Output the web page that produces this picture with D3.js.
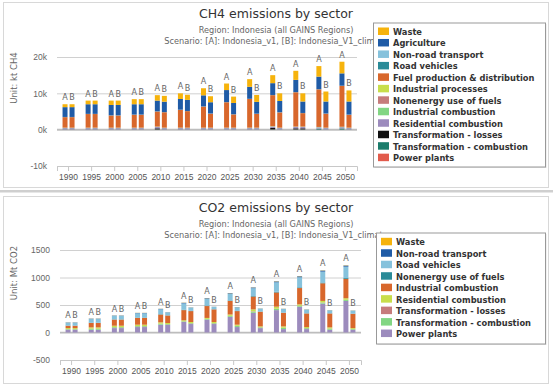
<!DOCTYPE html>
<html>
<head>
<meta charset="utf-8">
<script src="https://cdn.jsdelivr.net/npm/d3@7"></script>
<style>
body { margin: 0; background: #fff; }
svg { display: block; font-family: 'DejaVu Sans', sans-serif; }
</style>
</head>
<body>
<script>
var years = ['1990', '1995', '2000', '2005', '2010', '2015', '2020', '2025', '2030', '2035', '2040', '2045', '2050'];
var scenarios = ['A', 'B'];
var palette = ['#f6b30c', '#1f5ba6', '#86c2dc', '#2a8b98', '#d8672c', '#c8de4b', '#c67c7c', '#82d683', '#9c8bbd', '#111111', '#1b7c6b', '#e25b4c'];

// CH4, kt
var ch4WasteA       = [800, 1000, 1200, 1400, 1500, 1550, 1950, 1800, 2100, 2200, 2500, 2900, 3200];
var ch4WasteB       = [800, 1000, 1200, 1400, 1600, 1400, 1650, 1750, 1900, 2100, 2250, 2750, 3050];
var ch4AgricultureA = [2700, 2650, 2850, 2850, 2950, 2950, 3050, 3300, 3300, 3250, 3350, 3450, 3400];
var ch4AgricultureB = [2700, 2650, 2850, 2850, 2850, 3050, 3100, 3100, 3250, 3100, 3150, 3300, 3600];
var ch4NonRoadA     = [20, 20, 20, 20, 20, 20, 20, 20, 20, 20, 20, 20, 20];
var ch4NonRoadB     = [20, 20, 20, 20, 20, 20, 20, 20, 20, 20, 20, 20, 20];
var ch4RoadA        = [30, 30, 30, 30, 30, 30, 30, 30, 30, 30, 30, 30, 30];
var ch4RoadB        = [30, 30, 30, 30, 30, 30, 30, 30, 30, 30, 30, 30, 30];
var ch4FuelA        = [2900, 3750, 3350, 3550, 4150, 4900, 5800, 7000, 7900, 8550, 9450, 10350, 11250];
var ch4FuelB        = [2900, 3750, 3350, 3550, 4250, 4550, 3850, 3650, 3800, 4200, 3700, 3850, 3550];
var ch4IndProcA     = [30, 30, 30, 30, 30, 30, 30, 30, 30, 30, 30, 30, 30];
var ch4IndProcB     = [30, 30, 30, 30, 30, 30, 30, 30, 30, 30, 30, 30, 30];
var ch4NonenergyA   = [20, 20, 20, 20, 20, 20, 20, 20, 20, 20, 20, 20, 20];
var ch4NonenergyB   = [20, 20, 20, 20, 20, 20, 20, 20, 20, 20, 20, 20, 20];
var ch4IndCombA     = [80, 80, 80, 80, 80, 80, 80, 80, 80, 80, 80, 80, 80];
var ch4IndCombB     = [80, 80, 80, 80, 80, 80, 80, 80, 80, 80, 80, 80, 80];
var ch4ResidA       = [350, 350, 350, 350, 350, 350, 350, 350, 350, 350, 350, 350, 350];
var ch4ResidB       = [350, 350, 350, 350, 350, 350, 350, 350, 350, 350, 350, 350, 350];
var ch4TransLossA   = [0, 0, 0, 0, 300, 0, 0, 0, 0, 400, 300, 0, 0];
var ch4TransLossB   = [0, 0, 0, 0, 0, 0, 0, 0, 0, 0, 300, 0, 0];
var ch4TransCombA   = [50, 50, 50, 50, 50, 50, 50, 50, 50, 50, 50, 250, 300];
var ch4TransCombB   = [50, 50, 50, 50, 50, 50, 50, 50, 50, 50, 50, 50, 50];
var ch4PowerA       = [20, 20, 20, 20, 20, 20, 20, 20, 20, 20, 20, 20, 20];
var ch4PowerB       = [20, 20, 20, 20, 20, 20, 20, 20, 20, 20, 20, 20, 20];

// CO2, Mt
var co2WasteA     = [2, 2, 2, 2, 2, 3, 3, 3, 3, 4, 4, 4, 5];
var co2WasteB     = [2, 2, 2, 2, 1, 2, 1, 2, 2, 2, 2, 2, 2];
var co2NonRoadA   = [5, 6, 6, 7, 8, 11, 11, 11, 13, 16, 17, 19, 20];
var co2NonRoadB   = [5, 6, 6, 7, 3, 4, 3, 4, 3, 4, 4, 3, 3];
var co2RoadA      = [51, 67, 62, 78, 89, 114, 119, 119, 141, 172, 183, 198, 207];
var co2RoadB      = [51, 67, 62, 78, 53, 58, 42, 64, 51, 64, 64, 52, 52];
var co2NonenergyA = [4, 5, 4, 6, 6, 8, 9, 9, 10, 12, 13, 14, 15];
var co2NonenergyB = [4, 5, 4, 6, 4, 4, 3, 4, 4, 4, 4, 4, 4];
var co2IndCombA   = [43, 80, 112, 123, 142, 185, 216, 247, 234, 259, 296, 321, 352];
var co2IndCombB   = [43, 80, 112, 123, 136, 198, 229, 247, 267, 247, 247, 253, 260];
var co2ResidA     = [17, 24, 24, 24, 24, 17, 17, 24, 34, 34, 24, 27, 27];
var co2ResidB     = [17, 24, 24, 24, 20, 20, 20, 21, 15, 24, 18, 21, 15];
var co2TransLossA = [3, 4, 4, 4, 4, 3, 3, 4, 6, 6, 4, 5, 5];
var co2TransLossB = [3, 4, 4, 4, 4, 4, 4, 4, 3, 5, 4, 4, 3];
var co2TransCombA = [10, 15, 15, 15, 15, 11, 10, 15, 22, 22, 15, 17, 17];
var co2TransCombB = [10, 15, 15, 15, 13, 13, 13, 18, 13, 20, 15, 18, 12];
var co2PowerA     = [50, 50, 80, 99, 142, 191, 235, 284, 358, 407, 469, 525, 574];
var co2PowerB     = [50, 50, 80, 99, 136, 154, 154, 99, 80, 62, 62, 50, 50];

// legend order, top of stack first
var ch4Series = [
    {name: 'Waste', A: ch4WasteA, B: ch4WasteB},
    {name: 'Agriculture', A: ch4AgricultureA, B: ch4AgricultureB},
    {name: 'Non-road transport', A: ch4NonRoadA, B: ch4NonRoadB},
    {name: 'Road vehicles', A: ch4RoadA, B: ch4RoadB},
    {name: 'Fuel production & distribution', A: ch4FuelA, B: ch4FuelB},
    {name: 'Industrial processes', A: ch4IndProcA, B: ch4IndProcB},
    {name: 'Nonenergy use of fuels', A: ch4NonenergyA, B: ch4NonenergyB},
    {name: 'Industrial combustion', A: ch4IndCombA, B: ch4IndCombB},
    {name: 'Residential combustion', A: ch4ResidA, B: ch4ResidB},
    {name: 'Transformation - losses', A: ch4TransLossA, B: ch4TransLossB},
    {name: 'Transformation - combustion', A: ch4TransCombA, B: ch4TransCombB},
    {name: 'Power plants', A: ch4PowerA, B: ch4PowerB}
];
var co2Series = [
    {name: 'Waste', A: co2WasteA, B: co2WasteB},
    {name: 'Non-road transport', A: co2NonRoadA, B: co2NonRoadB},
    {name: 'Road vehicles', A: co2RoadA, B: co2RoadB},
    {name: 'Nonenergy use of fuels', A: co2NonenergyA, B: co2NonenergyB},
    {name: 'Industrial combustion', A: co2IndCombA, B: co2IndCombB},
    {name: 'Residential combustion', A: co2ResidA, B: co2ResidB},
    {name: 'Transformation - losses', A: co2TransLossA, B: co2TransLossB},
    {name: 'Transformation - combustion', A: co2TransCombA, B: co2TransCombB},
    {name: 'Power plants', A: co2PowerA, B: co2PowerB}
];

var subtitle = 'Region: Indonesia (all GAINS Regions)',
    scenarioText = 'Scenario: [A]: Indonesia_v1, [B]: Indonesia_V1_climate';

var svg = d3.select('body').append('svg')
    .attr('width', 553)
    .attr('height', 387);

svg.append('rect')
    .attr('x', 0).attr('y', 190)
    .attr('width', 553).attr('height', 2.5)
    .attr('fill', '#cfcfcf');

function drawChart(c) {
    var cx = 276;

    svg.append('rect')
        .attr('x', 3.5).attr('y', c.panelTop + 0.5)
        .attr('width', 545).attr('height', c.panelBottom - c.panelTop)
        .attr('fill', 'none')
        .attr('stroke', '#d8d8d8');

    svg.append('text')
        .attr('x', cx).attr('y', c.panelTop + 16)
        .attr('text-anchor', 'middle')
        .style('font-size', '12.5px')
        .attr('fill', '#333')
        .text(c.title);

    svg.append('text')
        .attr('x', cx).attr('y', c.panelTop + 30.5)
        .attr('text-anchor', 'middle')
        .style('font-size', '8.2px')
        .attr('fill', '#666')
        .text(subtitle);

    svg.append('text')
        .attr('x', cx).attr('y', c.panelTop + 42)
        .attr('text-anchor', 'middle')
        .style('font-size', '8.2px')
        .attr('fill', '#666')
        .text(scenarioText);

    var x = d3.scaleBand().domain(years).range([c.left, c.right]),
        xIn = d3.scaleBand().domain(scenarios).range([-6, 6]).paddingInner(0.29),
        y = d3.scaleLinear().domain(c.domain).range([c.bottom, c.top]),
        color = d3.scaleOrdinal().domain(c.series.map(function(s) { return s.name; })).range(palette);

    var yAxis = d3.axisLeft(y)
        .tickValues(c.ticks)
        .tickSize(-(c.right - c.left))
        .tickPadding(10)
        .tickFormat(c.format);

    var yy = svg.append('g')
        .attr('transform', 'translate(' + c.left + ',0)')
        .call(yAxis);
    yy.select('.domain').remove();
    yy.selectAll('line').attr('stroke', '#d0d0d0');
    yy.selectAll('text')
        .style('font-size', '8.5px')
        .attr('fill', '#666');

    svg.append('line')
        .attr('x1', c.left).attr('x2', c.right)
        .attr('y1', y(0)).attr('y2', y(0))
        .attr('stroke', '#bdbdbd')
        .attr('stroke-width', 1.6);

    var xAxis = d3.axisBottom(x).tickSize(5).tickPadding(3);
    var xx = svg.append('g')
        .attr('transform', 'translate(0,' + c.bottom + ')')
        .call(xAxis);
    xx.select('.domain').attr('stroke', '#c8c8c8');
    xx.selectAll('line').attr('stroke', '#c8c8c8');
    xx.selectAll('text')
        .style('font-size', '8.5px')
        .attr('fill', '#555');

    svg.append('text')
        .attr('transform', 'translate(17,' + c.unitY + ') rotate(-90)')
        .attr('text-anchor', 'middle')
        .style('font-size', '8.5px')
        .attr('fill', '#666')
        .text(c.unit);

    var rows = [];
    years.forEach(function(yr, i) {
        scenarios.forEach(function(sc) {
            var row = {year: yr, scen: sc, total: 0};
            c.series.forEach(function(s) {
                row[s.name] = s[sc][i];
                row.total += s[sc][i];
            });
            rows.push(row);
        });
    });

    var keys = c.series.map(function(s) { return s.name; }).reverse(),
        stacked = d3.stack().keys(keys)(rows);

    svg.append('g').selectAll('g')
        .data(stacked)
        .enter()
        .append('g')
        .attr('fill', function(d) { return color(d.key); })
        .selectAll('rect')
        .data(function(d) { return d; })
        .enter()
        .append('rect')
        .attr('x', function(d) { return x(d.data.year) + x.bandwidth() / 2 + xIn(d.data.scen); })
        .attr('width', xIn.bandwidth())
        .attr('y', function(d) { return y(d[1]); })
        .attr('height', function(d) { return y(d[0]) - y(d[1]); });

    svg.append('g').selectAll('text')
        .data(rows)
        .enter()
        .append('text')
        .attr('x', function(d) { return x(d.year) + x.bandwidth() / 2 + xIn(d.scen) + xIn.bandwidth() / 2; })
        .attr('y', function(d) { return y(d.total) - 4; })
        .attr('text-anchor', 'middle')
        .style('font-size', '8px')
        .attr('fill', '#666')
        .text(function(d) { return d.scen; });

    var lg = c.legend;
    svg.append('rect')
        .attr('x', lg.x + 1.5).attr('y', lg.y + 1.5)
        .attr('width', lg.w).attr('height', lg.h)
        .attr('fill', '#e4e4e4');
    svg.append('rect')
        .attr('x', lg.x + 0.5).attr('y', lg.y + 0.5)
        .attr('width', lg.w).attr('height', lg.h)
        .attr('fill', '#fff')
        .attr('stroke', '#999');

    var item = svg.append('g').selectAll('g')
        .data(c.series)
        .enter()
        .append('g')
        .attr('transform', function(d, i) { return 'translate(0,' + (lg.first + i * 11.47) + ')'; });

    item.append('rect')
        .attr('x', lg.x + 5)
        .attr('y', -7.5)
        .attr('width', 11)
        .attr('height', 7.5)
        .attr('fill', function(d) { return color(d.name); });

    item.append('text')
        .attr('x', lg.x + 20)
        .style('font-size', '8.3px')
        .style('font-weight', 'bold')
        .attr('fill', '#333')
        .text(function(d) { return d.name; });
}

drawChart({
    title: 'CH4 emissions by sector',
    unit: 'Unit: kt CH4',
    unitY: 78,
    series: ch4Series,
    panelTop: 2, panelBottom: 187,
    left: 57, right: 357, top: 57, bottom: 166,
    domain: [-10000, 20000],
    ticks: [-10000, 0, 10000, 20000],
    format: function(d) { return (d / 1000) + 'k'; },
    legend: {x: 373, y: 22.5, w: 172, h: 144, first: 35}
});

drawChart({
    title: 'CO2 emissions by sector',
    unit: 'Unit: Mt CO2',
    unitY: 273,
    series: co2Series,
    panelTop: 196, panelBottom: 383,
    left: 60, right: 361, top: 250, bottom: 360,
    domain: [-500, 1500],
    ticks: [-500, 0, 500, 1000, 1500],
    format: function(d) { return d; },
    legend: {x: 376, y: 232.5, w: 169, h: 111, first: 245.3}
});
</script>
</body>
</html>
